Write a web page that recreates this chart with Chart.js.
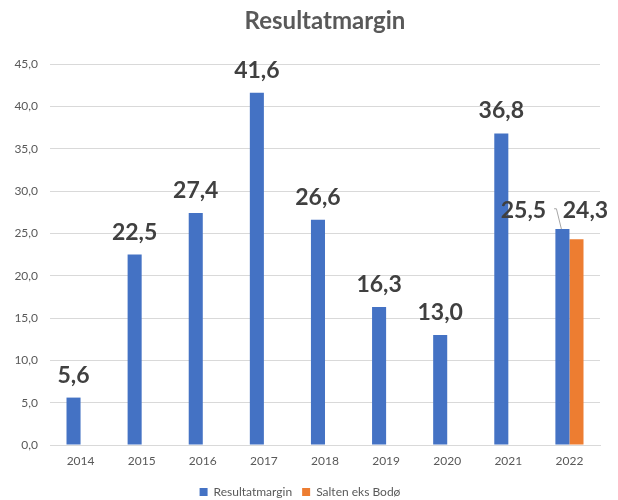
<!DOCTYPE html>
<html>
<head>
<meta charset="utf-8">
<script src="https://cdn.jsdelivr.net/npm/chart.js@4/dist/chart.umd.min.js"></script>
<style>
  html, body { margin: 0; padding: 0; background: #ffffff; }
  #wrap { width: 618px; height: 500px; position: relative; }
</style>
</head>
<body>
<div id="wrap"><canvas id="c" width="618" height="500"></canvas></div>
<script>
const years = ['2014', '2015', '2016', '2017', '2018', '2019', '2020', '2021', '2022'];
const resultatmargin = [5.6, 22.5, 27.4, 41.6, 26.6, 16.3, 13.0, 36.8, 25.5];
const saltenEksBodo = [null, null, null, null, null, null, null, null, 24.3];
const yTicks = [0, 5, 10, 15, 20, 25, 30, 35, 40, 45];
const chartTitle = 'Resultatmargin';

const fmt = v => v.toFixed(1).replace('.', ',');

// Title centred over the plot area rather than the whole canvas
const plotTitle = {
  id: 'plotTitle',
  afterDraw(chart) {
    const ctx = chart.ctx;
    const a = chart.chartArea;
    ctx.save();
    ctx.font = 'bold 24px Lato, "Open Sans", sans-serif';
    ctx.fillStyle = '#595959';
    ctx.textAlign = 'center';
    ctx.textBaseline = 'alphabetic';
    ctx.fillText(chartTitle, (a.left + a.right) / 2, 29);
    ctx.restore();
  }
};

// Value labels above each bar; in 2022 the two labels share one line and
// the blue one is pulled to the left with a leader line back to its bar
const valueLabels = {
  id: 'valueLabels',
  afterDatasetsDraw(chart) {
    const ctx = chart.ctx;
    ctx.save();
    ctx.font = 'bold 23px Lato, "Open Sans", sans-serif';
    ctx.fillStyle = '#404040';
    ctx.textAlign = 'center';
    ctx.textBaseline = 'alphabetic';
    const last = years.length - 1;
    const orange = chart.getDatasetMeta(1).data[last];
    const sharedY = orange.y - 21;
    chart.data.datasets.forEach((ds, di) => {
      const meta = chart.getDatasetMeta(di);
      meta.data.forEach((bar, i) => {
        const v = ds.data[i];
        if (v === null || v === undefined) return;
        const text = fmt(v);
        if (i === last && di === 0) {
          const tx = bar.x - 39;
          ctx.fillText(text, tx, sharedY);
          const w = ctx.measureText(text).width;
          ctx.strokeStyle = '#a6a6a6';
          ctx.lineWidth = 1;
          ctx.beginPath();
          ctx.moveTo(tx + w / 2 + 8, sharedY - 9.5);
          ctx.lineTo(bar.x - 6, sharedY - 9.5);
          ctx.lineTo(bar.x - 1, bar.y);
          ctx.stroke();
        } else if (i === last && di === 1) {
          ctx.fillText(text, bar.x + 9, sharedY);
        } else {
          ctx.fillText(text, bar.x, bar.y - 15);
        }
      });
    });
    ctx.restore();
  }
};

const chart = new Chart(document.getElementById('c'), {
  type: 'bar',
  data: {
    labels: years,
    datasets: [
      { label: 'Resultatmargin', data: resultatmargin, backgroundColor: '#4472C4' },
      { label: 'Salten eks Bodø', data: saltenEksBodo, backgroundColor: '#ED7D31' }
    ]
  },
  options: {
    responsive: false,
    animation: false,
    layout: { padding: { left: 0, right: 18, top: 64, bottom: 0 } },
    datasets: { bar: { categoryPercentage: 0.46, barPercentage: 1.0 } },
    plugins: {
      title: { display: false },
      legend: {
        position: 'bottom',
        labels: {
          color: '#595959',
          font: { family: 'Lato, "Open Sans", sans-serif', size: 12 },
          boxWidth: 8, boxHeight: 8, padding: 10
        }
      },
      tooltip: { enabled: false }
    },
    scales: {
      x: {
        afterFit: s => { s.height = 31; },
        grid: { display: false, drawTicks: false },
        border: { color: '#d9d9d9' },
        ticks: {
          color: '#595959',
          font: { family: 'Lato, "Open Sans", sans-serif', size: 12 },
          padding: 9
        }
      },
      y: {
        min: 0, max: 45,
        afterBuildTicks: s => { s.ticks = yTicks.map(v => ({ value: v })); },
        afterFit: s => { s.width = 50; },
        grid: { color: '#d9d9d9', drawTicks: false },
        border: { display: false },
        ticks: {
          color: '#595959',
          font: { family: 'Lato, "Open Sans", sans-serif', size: 12 },
          padding: 12,
          callback: v => fmt(v)
        }
      }
    }
  },
  plugins: [valueLabels, plotTitle]
});

// Keep the legend strip compact while leaving room between its items
const legendFit = chart.legend.fit;
chart.legend.fit = function () {
  legendFit.call(this);
  this.height = 24;
};
chart.update();
</script>
</body>
</html>
